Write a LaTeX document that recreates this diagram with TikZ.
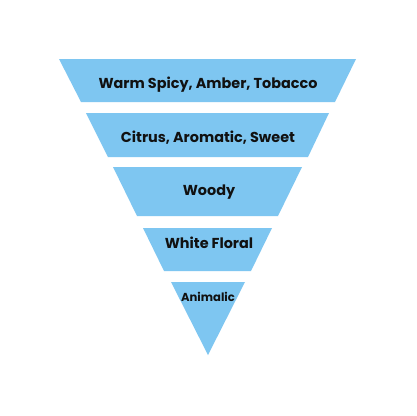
\documentclass[tikz,border=0pt]{standalone}
\usepackage{fontspec}
\setmainfont{Poppins}
\definecolor{tierblue}{HTML}{7EC6F1}
\definecolor{tiertext}{HTML}{111111}
\tikzset{
  tier/.style={fill=tierblue, draw=none},
  tierlabel/.style={text=tiertext, font=\bfseries\fontsize{14.4}{17}\selectfont, inner sep=0pt, anchor=base},
}
\begin{document}
\begin{tikzpicture}[x=1pt,y=-1pt]
\useasboundingbox (0,0) rectangle (416,416);
\fill[white] (0,0) rectangle (416,416);
\fill[tier] (59,59) -- (356,59) -- (335,102) -- (81,102) -- cycle;
\fill[tier] (86,113) -- (329,113) -- (308,157) -- (108,157) -- cycle;
\fill[tier] (113,167) -- (302,167) -- (278,216) -- (137,216) -- cycle;
\fill[tier] (143,228) -- (272,228) -- (251,271) -- (164,271) -- cycle;
\fill[tier] (171,282) -- (245,282) -- (208,355) -- cycle;
\node[tierlabel] (t1) at (208,88.5) {Warm Spicy, Amber, Tobacco};
\node[tierlabel] (t2) at (208,142.3) {Citrus, Aromatic, Sweet};
\node[tierlabel] (t3) at (209,195.7) {Woody};
\node[tierlabel] (t4) at (209,248.7) {White Floral};
\node[tierlabel, font=\bfseries\fontsize{11.6}{14}\selectfont] (t5) at (208,301.7) {Animalic};
\end{tikzpicture}
\end{document}
